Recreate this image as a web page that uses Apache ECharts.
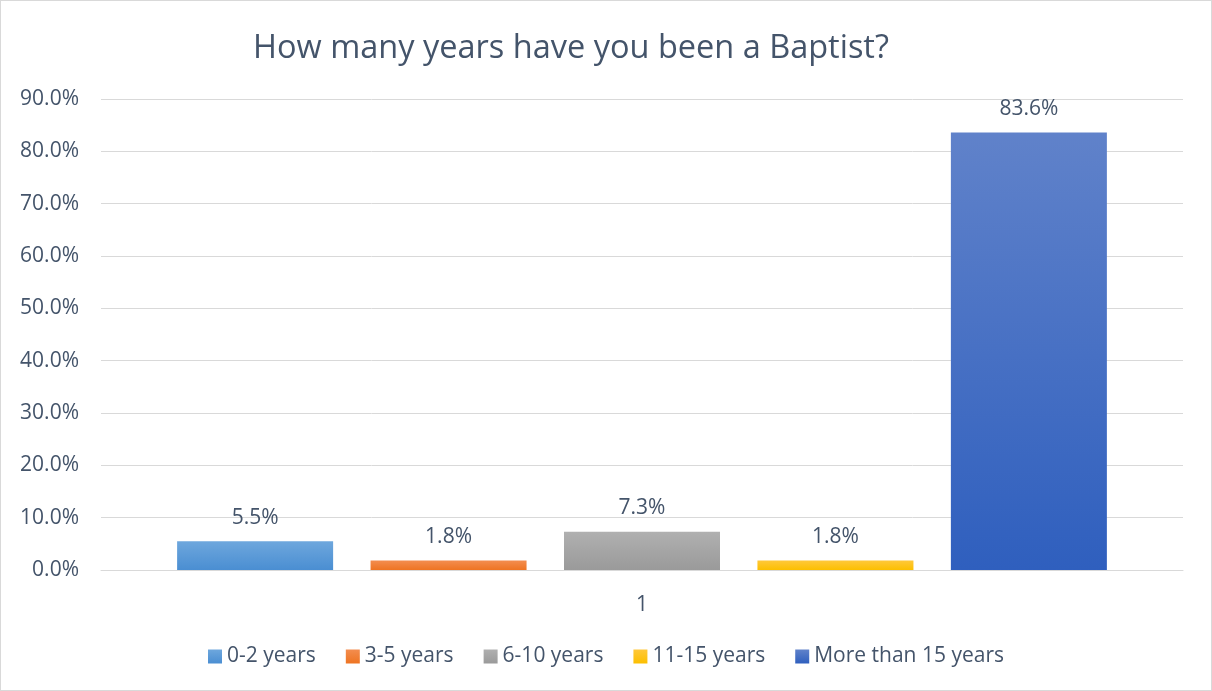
<!DOCTYPE html>
<html>
<head>
<meta charset="utf-8">
<script src="https://cdn.jsdelivr.net/npm/echarts@6/dist/echarts.min.js"></script>
<style>
  html, body { margin: 0; padding: 0; background: #fff; }
  #chart { width: 1212px; height: 691px; box-sizing: border-box; border: 1px solid #d9d9d9; }
</style>
</head>
<body>
<div id="chart"></div>
<script>
// Survey: how long respondents have been Baptist (share of answers, %)
const categories = ['1'];
const seriesNames = ['0-2 years', '3-5 years', '6-10 years', '11-15 years', 'More than 15 years'];
const seriesValues = [[5.5], [1.8], [7.3], [1.8], [83.6]];
const yTicks = [0, 10, 20, 30, 40, 50, 60, 70, 80, 90];

// top / bottom colours of each bar's vertical gradient
const gradients = [
  ['#6ea7dd', '#4a8ed2'],
  ['#f38d4f', '#ee7422'],
  ['#b0b0b0', '#9a9a9a'],
  ['#ffc83a', '#fcbf00'],
  ['#6082ca', '#2f5fbe']
];

const textColor = '#44546a';
const font = '"Open Sans", "Liberation Sans", sans-serif';

const chart = echarts.init(document.getElementById('chart'));
chart.setOption({
  animation: false,
  title: {
    text: 'How many years have you been a Baptist?',
    left: 565, top: 26, textAlign: 'center',
    textStyle: { color: textColor, fontSize: 32.5, fontWeight: 'normal', fontFamily: font }
  },
  legend: {
    bottom: 18, left: 'center',
    itemWidth: 14, itemHeight: 14, itemGap: 30,
    icon: 'rect',
    textStyle: { color: textColor, fontSize: 21, fontFamily: font, padding: [0, 0, 0, 0] },
    data: seriesNames
  },
  grid: { left: 100, right: 28, top: 98, bottom: 120, containLabel: false },
  xAxis: {
    type: 'category',
    data: categories,
    axisLine: { lineStyle: { color: '#d9d9d9', width: 1 } },
    axisTick: { show: false },
    axisLabel: { color: textColor, fontSize: 21, fontFamily: font, margin: 25 }
  },
  yAxis: {
    type: 'value',
    min: yTicks[0], max: yTicks[yTicks.length - 1], interval: 10,
    axisLine: { show: false },
    axisTick: { show: false },
    splitLine: { lineStyle: { color: '#d9d9d9', width: 1 } },
    axisLabel: {
      color: textColor, fontSize: 21, fontFamily: font, margin: 22,
      formatter: v => v.toFixed(1) + '%'
    }
  },
  series: seriesNames.map((name, i) => ({
    name,
    type: 'bar',
    data: seriesValues[i],
    barWidth: 156,
    barGap: '24%',
    itemStyle: {
      color: new echarts.graphic.LinearGradient(0, 0, 0, 1, [
        { offset: 0, color: gradients[i][0] },
        { offset: 1, color: gradients[i][1] }
      ])
    },
    label: {
      show: true, position: 'top', distance: 13,
      color: textColor, fontSize: 21, fontFamily: font,
      formatter: p => p.value.toFixed(1) + '%'
    }
  }))
});
</script>
</body>
</html>
